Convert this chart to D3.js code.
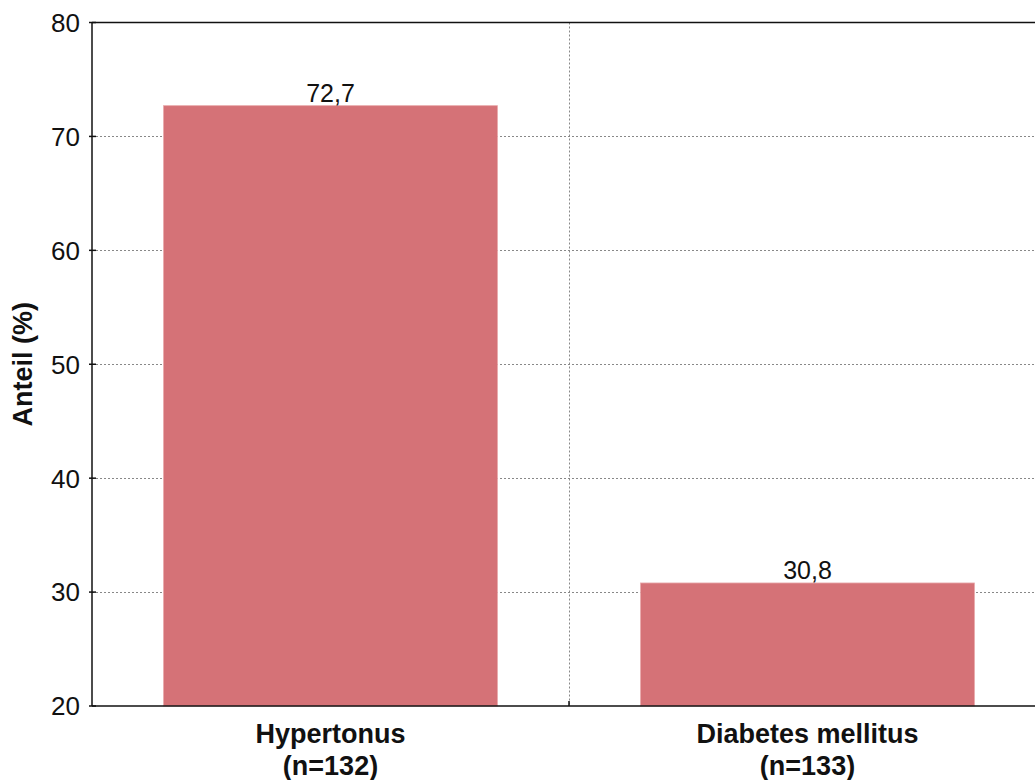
<!DOCTYPE html>
<html>
<head>
<meta charset="utf-8">
<script src="https://cdn.jsdelivr.net/npm/d3@7"></script>
<style>
  body { margin: 0; background: #fff; }
  svg { display: block; font-family: "Liberation Sans", Arial, sans-serif; }
</style>
</head>
<body>
<div id="chart"></div>
<script>
// Anteil (%) je Gruppe
const categories = ["Hypertonus", "Diabetes mellitus"];
const sampleSizes = ["(n=132)", "(n=133)"];
const values = [72.7, 30.8];
const yTicks = [20, 30, 40, 50, 60, 70, 80];

const width = 1035;
const height = 780;
const margin = { top: 22.5, right: -11, bottom: 74, left: 92 };

const svg = d3.select("#chart")
  .append("svg")
  .attr("width", width)
  .attr("height", height);

const x = d3.scaleBand()
  .domain(categories)
  .range([margin.left, width - margin.right])
  .paddingInner(0.3)
  .paddingOuter(0.15);

const y = d3.scaleLinear()
  .domain([20, 80])
  .range([height - margin.bottom, margin.top]);

const grid = svg.append("g")
  .attr("stroke", "#888")
  .attr("stroke-width", 1)
  .attr("stroke-dasharray", "2,2");

// horizontale Gitterlinien
grid.selectAll("line.h")
  .data(yTicks.filter(t => t > 20 && t < 80))
  .join("line")
  .attr("class", "h")
  .attr("x1", margin.left)
  .attr("x2", width)
  .attr("y1", d => Math.round(y(d)) + 0.5)
  .attr("y2", d => Math.round(y(d)) + 0.5);

// vertikale Trennlinie zwischen den Kategorien
const sep = x(categories[1]) - x.step() * x.paddingInner() / 2;
grid.append("line")
  .attr("x1", Math.round(sep) + 0.5)
  .attr("x2", Math.round(sep) + 0.5)
  .attr("y1", margin.top)
  .attr("y2", y(20));

// Balken
svg.append("g")
  .selectAll("rect")
  .data(values)
  .join("rect")
  .attr("x", (d, i) => x(categories[i]))
  .attr("width", x.bandwidth())
  .attr("y", d => y(d))
  .attr("height", d => y(20) - y(d))
  .attr("fill", "#d57277")
  .attr("stroke", "#e8a9ab")
  .attr("stroke-width", 0.8);

// Werte über den Balken
svg.append("g")
  .selectAll("text")
  .data(values)
  .join("text")
  .attr("x", (d, i) => x(categories[i]) + x.bandwidth() / 2)
  .attr("y", d => y(d) - 4)
  .attr("text-anchor", "middle")
  .style("font-size", "25px")
  .style("fill", "#111")
  .text(d => d.toFixed(1).replace(".", ","));

// Achsenrahmen
const frame = svg.append("g").attr("stroke", "#111").attr("fill", "none");
frame.append("line")
  .attr("x1", margin.left).attr("x2", margin.left)
  .attr("y1", margin.top).attr("y2", y(20))
  .attr("stroke-width", 1.5);
frame.append("line")
  .attr("x1", margin.left).attr("x2", width)
  .attr("y1", y(20)).attr("y2", y(20))
  .attr("stroke-width", 1.5);
frame.append("line")
  .attr("x1", margin.left).attr("x2", width)
  .attr("y1", margin.top).attr("y2", margin.top)
  .attr("stroke-width", 1.5);

// y-Ticks
frame.selectAll("line.yt")
  .data(yTicks)
  .join("line")
  .attr("class", "yt")
  .attr("x1", margin.left - 3)
  .attr("x2", margin.left + 4)
  .attr("y1", d => y(d))
  .attr("y2", d => y(d))
  .attr("stroke-width", 1.5);

frame.append("line")
  .attr("x1", sep).attr("x2", sep)
  .attr("y1", y(20)).attr("y2", y(20) - 5)
  .attr("stroke-width", 1.5);

svg.append("g")
  .selectAll("text")
  .data(yTicks)
  .join("text")
  .attr("x", margin.left - 12)
  .attr("y", d => y(d))
  .attr("dy", "0.36em")
  .attr("text-anchor", "end")
  .style("font-size", "26px")
  .style("fill", "#111")
  .text(d => d);

// Kategorien
const cat = svg.append("g")
  .selectAll("text")
  .data(categories)
  .join("text")
  .attr("text-anchor", "middle")
  .style("font-size", "27px")
  .style("font-weight", "bold")
  .style("fill", "#111");
cat.append("tspan")
  .attr("x", d => x(d) + x.bandwidth() / 2)
  .attr("y", 743)
  .text(d => d);
cat.append("tspan")
  .attr("x", d => x(d) + x.bandwidth() / 2)
  .attr("y", 775)
  .text((d, i) => sampleSizes[i]);

// y-Achsentitel
svg.append("text")
  .attr("transform", `translate(32, ${(margin.top + y(20)) / 2}) rotate(-90)`)
  .attr("text-anchor", "middle")
  .style("font-size", "27px")
  .style("font-weight", "bold")
  .style("fill", "#111")
  .text("Anteil (%)");
</script>
</body>
</html>
